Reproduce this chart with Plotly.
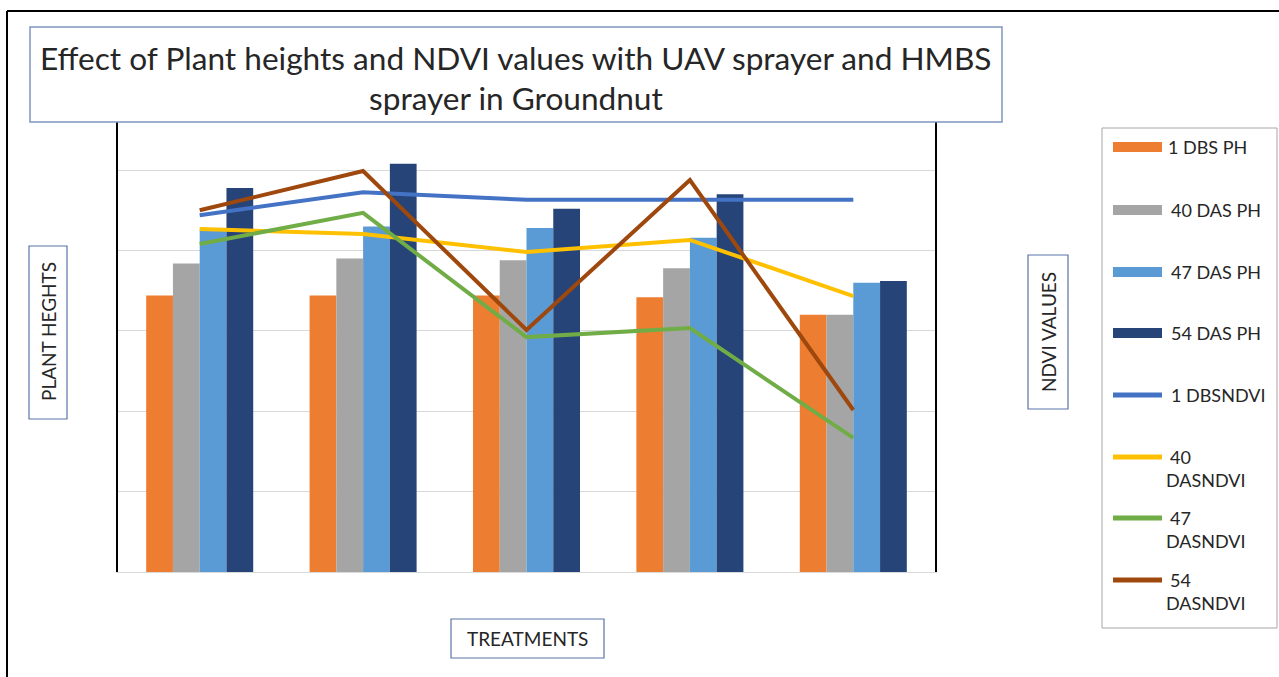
import plotly.graph_objects as go

# ---------------- data ----------------
treatments = ["T1", "T2", "T3", "T4", "T5"]

bar_names = ["1 DBS PH", "40 DAS PH", "47 DAS PH", "54 DAS PH"]
ph_1dbs = [17.2, 17.2, 17.2, 17.1, 16.0]
ph_40das = [19.2, 19.5, 19.4, 18.9, 16.0]
ph_47das = [21.3, 21.5, 21.4, 20.8, 18.0]
ph_54das = [23.9, 25.4, 22.6, 23.5, 18.1]

line_names = ["1 DBSNDVI", "40 DASNDVI", "47 DASNDVI", "54 DASNDVI"]
ndvi_1dbs = [0.793, 0.844, 0.827, 0.827, 0.827]
ndvi_40das = [0.762, 0.751, 0.711, 0.738, 0.613]
ndvi_47das = [0.729, 0.798, 0.522, 0.542, 0.298]
ndvi_54das = [0.804, 0.891, 0.538, 0.871, 0.360]

bar_colors = ["#ED7D31", "#A5A5A5", "#5B9BD5", "#264478"]
line_colors = ["#4472C4", "#FFC000", "#70AD47", "#9E480E"]

title_line1 = "Effect of Plant heights and NDVI values with UAV sprayer and HMBS"
title_line2 = "sprayer in Groundnut"
ytitle = "PLANT HEGHTS"
y2title = "NDVI VALUES"
xtitle = "TREATMENTS"

# ---------------- layout geometry ----------------
W, H = 1279, 677
L, R, T, B = 118, 935, 122, 572


def px(x):
    return (x - L) / (R - L)


def py(y):
    return (B - y) / (B - T)


FONT = "Lato"
TXT = "#262626"

fig = go.Figure()
for name, vals, col in zip(bar_names, [ph_1dbs, ph_40das, ph_47das, ph_54das], bar_colors):
    fig.add_trace(go.Bar(x=treatments, y=vals, name=name, marker=dict(color=col, line=dict(width=0))))
for name, vals, col in zip(line_names, [ndvi_1dbs, ndvi_40das, ndvi_47das, ndvi_54das], line_colors):
    fig.add_trace(go.Scatter(x=treatments, y=vals, name=name, mode="lines",
                             line=dict(color=col, width=4), yaxis="y2"))

shapes = []
annotations = []


def text(x, y, s, size, angle=0, xanchor="center"):
    annotations.append(dict(xref="paper", yref="paper", x=px(x), y=py(y), text=s, showarrow=False,
                            textangle=angle, xanchor=xanchor, yanchor="middle",
                            font=dict(family=FONT, size=size, color=TXT)))


# outer frame (top and left)
shapes.append(dict(type="line", xref="paper", yref="paper", x0=px(7), x1=px(1279), y0=py(11), y1=py(11),
                   line=dict(color="black", width=2)))
shapes.append(dict(type="line", xref="paper", yref="paper", x0=px(7), x1=px(7), y0=py(11), y1=py(677),
                   line=dict(color="black", width=2)))

# title box
shapes.append(dict(type="rect", xref="paper", yref="paper", x0=px(30), x1=px(1002), y0=py(27), y1=py(122),
                   line=dict(color="#7F96BF", width=1.5), fillcolor="white", layer="above"))
text(516, 58, title_line1, 31.6)
text(516, 98, title_line2, 31.6)

# axis title boxes
box_col = "#5B74A8"
shapes.append(dict(type="rect", xref="paper", yref="paper", x0=px(29), x1=px(67), y0=py(246), y1=py(419),
                   line=dict(color=box_col, width=1.2)))
text(48, 332, ytitle, 19, angle=-90)
shapes.append(dict(type="rect", xref="paper", yref="paper", x0=px(1028), x1=px(1068), y0=py(255), y1=py(409),
                   line=dict(color=box_col, width=1.2)))
text(1048, 332, y2title, 19, angle=-90)
shapes.append(dict(type="rect", xref="paper", yref="paper", x0=px(451), x1=px(604), y0=py(619), y1=py(658),
                   line=dict(color=box_col, width=1.2)))
text(527, 638, xtitle, 19)

# manual legend
shapes.append(dict(type="rect", xref="paper", yref="paper", x0=px(1102), x1=px(1277), y0=py(128), y1=py(628),
                   line=dict(color="#A6A6A6", width=1)))
leg_rows = [147, 210, 272, 333, 395, 457, 518, 580]
LEGSZ = 18
for i, (yy, col, name) in enumerate(zip(leg_rows, bar_colors + line_colors, bar_names + line_names)):
    th = 10 if i < 4 else 5
    shapes.append(dict(type="rect", xref="paper", yref="paper", x0=px(1113), x1=px(1162),
                       y0=py(yy - th / 2), y1=py(yy + th / 2), line=dict(width=0), fillcolor=col))
    if i < 5:
        text(1166 if i == 0 else 1169, yy, name, LEGSZ, xanchor="left")
    else:
        num, rest = name.split(" ")
        text(1168, yy, num, LEGSZ, xanchor="left")
        text(1164, yy + 23, rest, LEGSZ, xanchor="left")

fig.update_layout(
    width=W, height=H,
    margin=dict(l=L, r=W - R, t=T, b=H - B, pad=0),
    paper_bgcolor="white", plot_bgcolor="white",
    showlegend=False,
    barmode="group", bargap=0.345, bargroupgap=0,
    xaxis=dict(showticklabels=False, ticks="", showline=True, linecolor="#D9D9D9", linewidth=1,
               showgrid=False, zeroline=False),
    yaxis=dict(range=[0, 28], dtick=5, showticklabels=False, ticks="", showgrid=True, gridcolor="#D9D9D9",
               gridwidth=1, zeroline=False, showline=True, linecolor="black", linewidth=1.5, mirror=True),
    yaxis2=dict(range=[0, 1], overlaying="y", side="right", showticklabels=False, ticks="",
                showgrid=False, zeroline=False, showline=False),
    shapes=shapes, annotations=annotations,
)

fig.write_html("out.html", config={"displayModeBar": False},
               post_script="document.body.style.margin='0';document.body.style.overflow='hidden';")
